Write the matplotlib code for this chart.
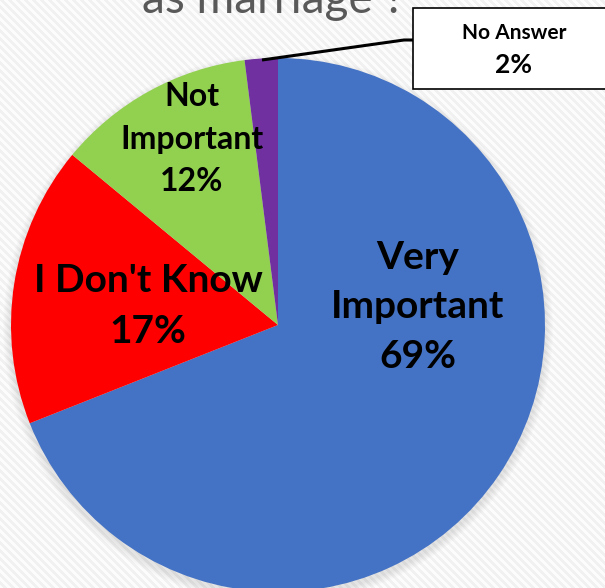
import numpy as np
import matplotlib.pyplot as plt
from matplotlib.patches import Rectangle, Circle

# данные диаграммы
categories = ['Very\nImportant', "I Don't Know", 'Not\nImportant', 'No Answer']
shares = [69, 17, 12, 2]
colors = ['#4472C4', '#FF0000', '#92D050', '#7030A0']

W, H = 605, 588
fig = plt.figure(figsize=(W / 100, H / 100), dpi=100)
ax = fig.add_axes([0, 0, 1, 1])

# фон в диагональную полоску
yy, xx = np.mgrid[0:H, 0:W]
stripes = ((xx - yy) // 4) % 2
ax.imshow(stripes, cmap=plt.matplotlib.colors.ListedColormap(['#f1f1f1', '#fcfcfc']),
          extent=(0, W, 0, H), origin='upper', zorder=0, interpolation='nearest')

cx, cy, r = 278, H - 325, 267

# мягкая тень под кругом
for k in range(8):
    ax.add_patch(Circle((cx, cy - 4), r + 8 - k, color='#000000', alpha=0.012, lw=0, zorder=1))

wedges, _ = ax.pie(shares, colors=colors, startangle=90, counterclock=False,
                   center=(cx, cy), radius=r, frame=True,
                   wedgeprops=dict(linewidth=0, zorder=2))
ax.set_xlim(0, W)
ax.set_ylim(0, H)
ax.set_aspect('equal')
ax.axis('off')

font = 'Lato'
# подписи секторов
ax.text(418, H - 307, f'{categories[0]}\n{shares[0]}%', ha='center', va='center',
        fontsize=28, fontweight='bold', family=font, linespacing=1.5, zorder=5)
ax.text(148, H - 306, f'{categories[1]}\n{shares[1]}%', ha='center', va='center',
        fontsize=28, fontweight='bold', family=font, linespacing=1.55, zorder=5)
ax.text(192, H - 139, f'{categories[2]}\n{shares[2]}%', ha='center', va='center',
        fontsize=23, fontweight='bold', family=font, linespacing=1.55, zorder=5)

# выноска для маленького сектора
ax.plot([262, 404, 413], [H - 60, H - 40, H - 40], color='black', lw=2.2,
        solid_capstyle='butt', zorder=6)
ax.add_patch(Rectangle((413, H - 89), 202, 81, facecolor='white', edgecolor='black',
                       lw=1.2, zorder=6))
ax.text(514, H - 33, categories[3], ha='center', va='center', fontsize=15,
        fontweight='bold', family=font, zorder=7)
ax.text(514, H - 65, f'{shares[3]}%', ha='center', va='center', fontsize=19,
        fontweight='bold', family=font, zorder=7)

# обрезанный заголовок
ax.text(273, H - 13, 'as marriage ?', ha='center', va='baseline', fontsize=33,
        color='#595959', family=font, zorder=5)

fig.savefig('out.png', dpi=100)
